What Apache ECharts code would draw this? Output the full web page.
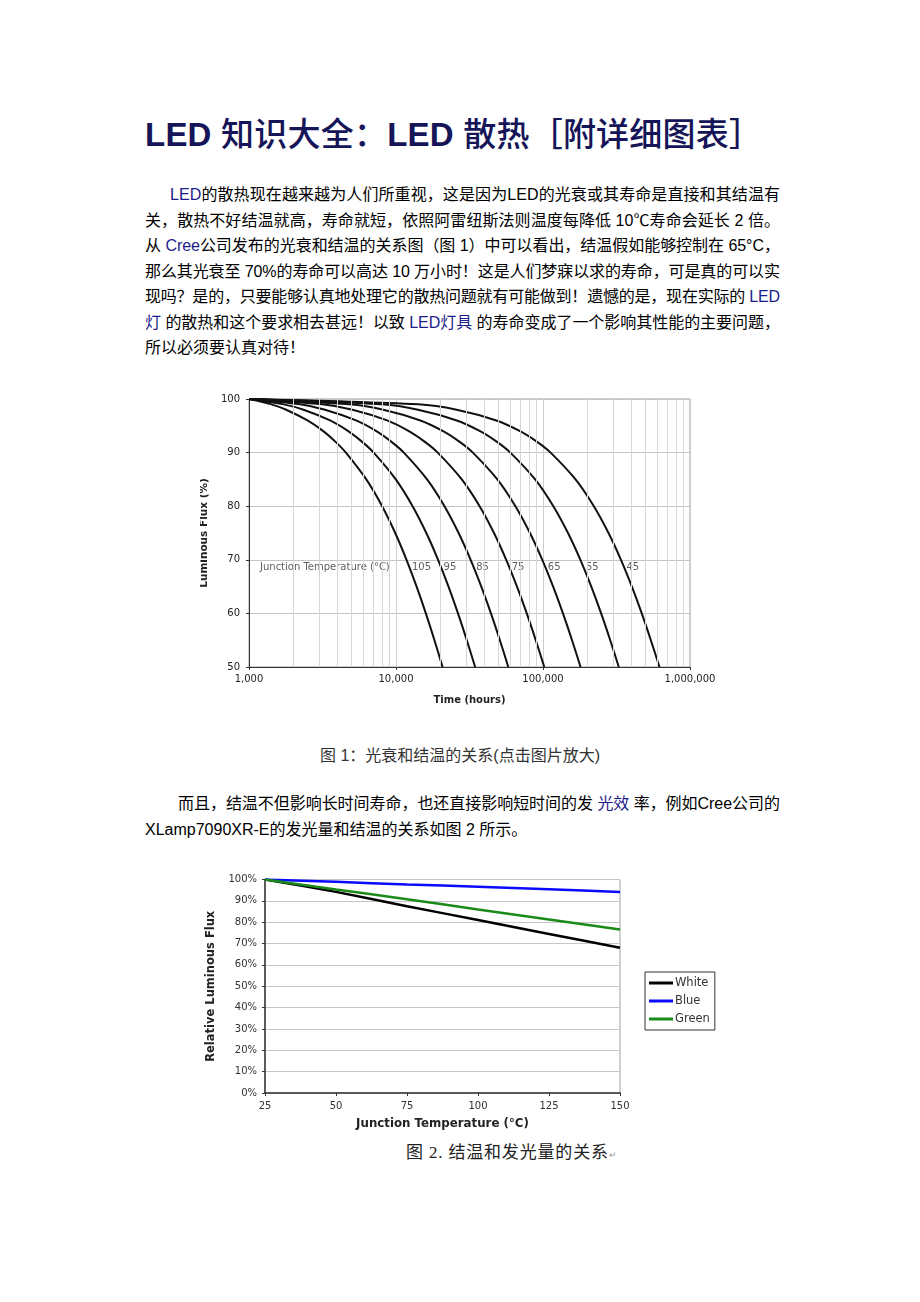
<!DOCTYPE html>
<html><head><meta charset="utf-8">
<script src="https://cdn.jsdelivr.net/npm/echarts@6/dist/echarts.min.js"></script>
<style>
html,body{margin:0;padding:0;background:#fff;}
body{width:920px;height:1302px;position:relative;overflow:hidden;font-family:"Liberation Sans","Noto Sans CJK SC",sans-serif;color:#111;}
.t{position:absolute;white-space:nowrap;display:inline-block;}
.title{left:145px;top:114px;font-size:33px;line-height:42px;color:#151558;font-family:"Liberation Sans","Noto Sans CJK SC",sans-serif;}
.title b{font-weight:bold;}
.title span{font-weight:500;}
.ln{font-size:16px;line-height:25px;height:25px;color:#000;}
.b{color:#1c1c8a;}
.cap1{left:0;width:920px;text-align:center;font-size:16px;line-height:25px;color:#333;}
.cap2{left:406px;font-size:17px;line-height:25px;color:#222;font-family:"Liberation Serif","Noto Sans CJK SC",serif;}
#c1{position:absolute;left:200px;top:385px;width:530px;height:335px;}
#c2{position:absolute;left:200px;top:860px;width:530px;height:280px;}
</style>
</head><body>
<div class="t title fit" data-w="617"><b>LED</b> <span>知识大全：</span><b>LED</b> <span>散热［附详细图表］</span></div>

<div class="t ln fit" data-w="610" style="left:170px;top:182px"><span class="b">LED</span>的散热现在越来越为人们所重视，这是因为LED的光衰或其寿命是直接和其结温有</div>
<div class="t ln fit" data-w="635" style="left:145px;top:207.5px">关，散热不好结温就高，寿命就短，依照阿雷纽斯法则温度每降低 10℃寿命会延长 2 倍。</div>
<div class="t ln fit" data-w="635" style="left:145px;top:233px">从 <span class="b">Cree</span>公司发布的光衰和结温的关系图（图 1）中可以看出，结温假如能够控制在 65°C，</div>
<div class="t ln fit" data-w="635" style="left:145px;top:258.5px">那么其光衰至 70%的寿命可以高达 10 万小时！这是人们梦寐以求的寿命，可是真的可以实</div>
<div class="t ln fit" data-w="635" style="left:145px;top:284px">现吗？是的，只要能够认真地处理它的散热问题就有可能做到！遗憾的是，现在实际的 <span class="b">LED</span></div>
<div class="t ln fit" data-w="635" style="left:145px;top:309.5px"><span class="b">灯</span> 的散热和这个要求相去甚远！以致 <span class="b">LED灯具</span> 的寿命变成了一个影响其性能的主要问题，</div>
<div class="t ln" style="left:145px;top:335px">所以必须要认真对待！</div>

<div id="c1"></div>
<div class="t cap1" style="top:742.5px">图 1：光衰和结温的关系(点击图片放大)</div>

<div class="t ln fit" data-w="602" style="left:178px;top:790.5px">而且，结温不但影响长时间寿命，也还直接影响短时间的发 <span class="b">光效</span> 率，例如Cree公司的</div>
<div class="t ln" style="left:145px;top:816.5px">XLamp7090XR-E的发光量和结温的关系如图 2 所示。</div>

<div id="c2"></div>
<div class="t cap2" style="top:1139.5px"><span class="fit" data-w="202" style="display:inline-block">图 2. 结温和发光量的关系</span><span style="font-size:9px;color:#999">↵</span></div>

<script>
// ---------- Figure 1 data: time (hours) at which each curve reaches each flux level ----------
const fluxLevels = [100, 99, 98, 96, 94, 92, 90, 85, 80, 75, 70, 65, 60, 55, 50];
const tempLabels = ['105', '95', '85', '75', '65', '55', '45'];
const t105 = [1000, 1420, 1790, 2500, 3200, 3880, 4560, 6280, 8050, 9880, 11790, 13810, 15960, 18260, 20740];
const t95  = [1000, 1720, 2350, 3560, 4730, 5890, 7050, 9970, 12970, 16080, 19330, 22760, 26410, 30310, 34530];
const t85  = [1000, 2220, 3290, 5350, 7350, 9320, 11300, 16270, 21370, 26660, 32200, 38040, 44250, 50900, 58080];
const t75  = [1000, 3150, 5060, 8700, 12230, 15730, 19230, 28020, 37050, 46410, 56210, 66550, 77530, 89290, 102000];
const t65  = [1000, 4820, 8200, 14650, 20910, 27120, 33320, 48910, 64920, 81520, 98900, 117230, 136700, 157560, 180100];
const t55  = [1000, 7970, 14130, 25900, 37330, 48650, 59960, 88410, 117610, 147900, 179600, 213030, 248560, 286620, 327730];
const t45  = [1000, 14190, 25850, 48130, 69770, 91210, 112610, 166470, 221750, 279090, 339100, 402390, 469640, 541690, 619520];
const curveTimes = [t105, t95, t85, t75, t65, t55, t45];
const minorGridTimes = [2000, 3000, 4000, 5000, 6000, 7000, 8000, 9000,
  20000, 30000, 40000, 50000, 60000, 70000, 80000, 90000,
  200000, 300000, 400000, 500000, 600000, 700000, 800000, 900000];
const annotationText = 'Junction Temperature (°C)';

// ---------- Figure 2 data ----------
const junctionTemps = [25, 50, 75, 100, 125, 150];
const whiteFlux = [100, 94.2, 87.5, 81.0, 74.5, 68.0];
const blueFlux  = [100, 98.9, 97.7, 96.6, 95.4, 94.2];
const greenFlux = [100, 95.3, 90.8, 86.0, 81.3, 76.6];

// ---------- text fitting (justification) ----------
function fitLines() {
  document.querySelectorAll('.fit').forEach(el => {
    el.style.letterSpacing = '0px';
    const natural = el.getBoundingClientRect().width;
    const n = Array.from(el.textContent).length;
    const target = parseFloat(el.dataset.w);
    if (n > 1) el.style.letterSpacing = ((target - natural) / (n - 1)) + 'px';
  });
}
fitLines();
if (document.fonts && document.fonts.ready) document.fonts.ready.then(fitLines);

const F = 'DejaVu Sans';

// ---------- Chart 1 ----------
const c1 = echarts.init(document.getElementById('c1'), null, {renderer: 'canvas'});
const i70 = fluxLevels.indexOf(70);
const series1 = [{
  type: 'line', data: [], z: 1, silent: true,
  markLine: {
    silent: true, symbol: ['none', 'none'], label: {show: false},
    lineStyle: {color: '#d6d6d6', width: 1, type: 'solid'},
    data: minorGridTimes.map(v => ({xAxis: v}))
  }
}];
curveTimes.forEach((arr, k) => {
  series1.push({
    type: 'line', z: 3, smooth: 0.3, showSymbol: false, symbol: 'none',
    lineStyle: {color: '#111', width: 2},
    data: arr.map((t, i) => [t, fluxLevels[i]])
  });
  series1.push({
    type: 'scatter', z: 4, symbolSize: 0, silent: true,
    data: [[arr[i70], 70]],
    label: {show: true, position: 'right', distance: 0, offset: [5.5, 8], formatter: tempLabels[k],
      fontFamily: F, fontSize: 10, color: '#333'}
  });
});
series1.push({
  type: 'scatter', z: 4, symbolSize: 0, silent: true, data: [[1000, 70]],
  label: {show: true, position: 'right', distance: 0, offset: [11, 8], formatter: annotationText,
    fontFamily: F, fontSize: 10, color: '#333'}
});
c1.setOption({
  animation: false,
  grid: {left: 49, top: 14, width: 441, height: 268, show: true, borderColor: '#9c9c9c', borderWidth: 1,
    containLabel: false, outerBoundsMode: 'none'},
  xAxis: {
    type: 'log', logBase: 10, min: 1000, max: 1000000,
    name: 'Time (hours)', nameLocation: 'middle', nameGap: 28,
    nameTextStyle: {fontFamily: F, fontSize: 10, fontWeight: 'bold', color: '#222'},
    axisLine: {lineStyle: {color: '#333', width: 1}},
    axisTick: {show: true, length: 3, lineStyle: {color: '#333'}},
    axisLabel: {fontFamily: F, fontSize: 10, color: '#222', margin: 7,
      formatter: v => Math.round(v).toLocaleString('en-US')},
    splitLine: {show: true, lineStyle: {color: '#cfcfcf', width: 1}}
  },
  yAxis: {
    type: 'value', min: 50, max: 100, interval: 10,
    name: 'Luminous Flux (%)', nameLocation: 'middle', nameGap: 31,
    nameTextStyle: {fontFamily: F, fontSize: 10.5, fontWeight: 'bold', color: '#222'},
    axisLine: {show: true, lineStyle: {color: '#333', width: 1}},
    axisTick: {show: true, length: 3, lineStyle: {color: '#333'}},
    axisLabel: {fontFamily: F, fontSize: 10, color: '#222', margin: 9},
    splitLine: {show: true, lineStyle: {color: '#c4c4c4', width: 1}}
  },
  series: series1
});

// ---------- Chart 2 ----------
const c2 = echarts.init(document.getElementById('c2'), null, {renderer: 'canvas'});
const mk = (name, color, vals) => ({
  name, type: 'line', showSymbol: false, symbol: 'none', smooth: 0.2, legendIcon: 'rect',
  lineStyle: {color, width: 2.5}, itemStyle: {color},
  data: junctionTemps.map((t, i) => [t, vals[i]])
});
c2.setOption({
  animation: false,
  grid: {left: 65, top: 19.5, width: 355, height: 213.5, show: true, borderColor: '#a0a0a0', borderWidth: 1,
    containLabel: false, outerBoundsMode: 'none'},
  legend: {
    orient: 'vertical', left: 445, top: 112, icon: 'rect', itemWidth: 24, itemHeight: 3, itemGap: 4,
    padding: [4, 5, 4, 4], borderColor: '#333', borderWidth: 1,
    textStyle: {fontFamily: F, fontSize: 11.5, color: '#333', padding: [0, 0, 0, -3], lineHeight: 14},
    data: ['White', 'Blue', 'Green']
  },
  xAxis: {
    type: 'value', min: 25, max: 150, interval: 25,
    name: 'Junction Temperature (°C)', nameLocation: 'middle', nameGap: 25,
    nameTextStyle: {fontFamily: F, fontSize: 11.8, fontWeight: 'bold', color: '#222'},
    axisLine: {lineStyle: {color: '#333', width: 1.5}},
    axisTick: {show: true, length: 3, lineStyle: {color: '#333'}},
    axisLabel: {fontFamily: F, fontSize: 10, color: '#333', margin: 8},
    splitLine: {show: false}
  },
  yAxis: {
    type: 'value', min: 0, max: 100, interval: 10,
    name: 'Relative Luminous Flux', nameLocation: 'middle', nameGap: 40,
    nameTextStyle: {fontFamily: F, fontSize: 11.5, fontWeight: 'bold', color: '#222'},
    axisLine: {show: true, lineStyle: {color: '#333', width: 1.5}},
    axisTick: {show: true, length: 3, lineStyle: {color: '#333'}},
    axisLabel: {fontFamily: F, fontSize: 10, color: '#333', margin: 8, formatter: '{value}%'},
    splitLine: {show: true, lineStyle: {color: '#c6c6c6', width: 1}}
  },
  series: [mk('White', '#000000', whiteFlux), mk('Blue', '#0a0aff', blueFlux), mk('Green', '#1a8a1a', greenFlux)]
});
</script>
</body></html>
